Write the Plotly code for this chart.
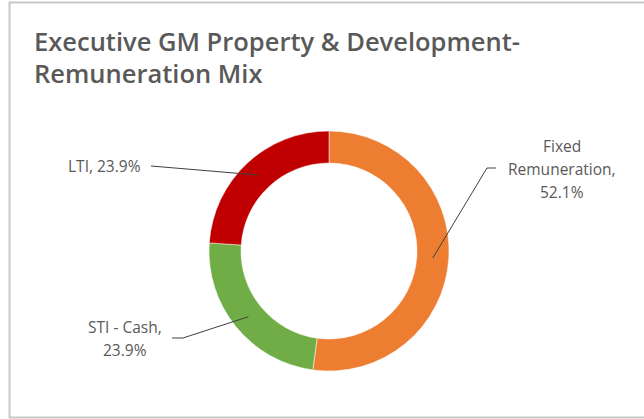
import math
import plotly.graph_objects as go

# Remuneration mix data
categories = ["Fixed Remuneration", "STI - Cash", "LTI"]
shares = [52.1, 23.9, 23.9]
colors = ["#ED7D31", "#70AD47", "#C00000"]
label_lines = [["Fixed", "Remuneration,", "52.1%"], ["STI - Cash,", "23.9%"], ["LTI, 23.9%"]]
title_lines = ["Executive GM Property & Development-", "Remuneration Mix"]

W, H = 644, 419
CX, CY, R_OUT, R_IN = 329, 251, 120, 88


def px(x):
    return x / W


def py(y):
    return 1 - y / H


fig = go.Figure(
    go.Pie(
        labels=categories,
        values=shares,
        marker=dict(colors=colors, line=dict(color="white", width=0.5)),
        hole=R_IN / R_OUT,
        sort=False,
        direction="clockwise",
        rotation=0,
        textinfo="none",
        hoverinfo="label+percent",
        showlegend=False,
        domain=dict(x=[px(CX - R_OUT), px(CX + R_OUT)],
                    y=[py(CY + R_OUT), py(CY - R_OUT)]),
    )
)

# Leader-line anchor at the middle of each ring segment
total = sum(shares)
anchors = []
cum = 0
for v in shares:
    mid = (cum + v / 2) / total * 2 * math.pi
    r = (R_OUT + R_IN) / 2
    anchors.append((CX + r * math.sin(mid), CY - r * math.cos(mid)))
    cum += v

# label placement: text position of first line, alignment, elbow points
placements = [
    dict(x=562, y=146, align="center", elbow=[(496, 168), (487, 168)]),
    dict(x=125, y=327, align="center", elbow=[(172, 338), (183, 338)]),
    dict(x=143, y=166, align="right", elbow=[(151, 166)]),
]

shapes = [
    dict(type="rect", xref="paper", yref="paper",
         x0=px(9.5), x1=px(W + 5), y0=py(417.5), y1=py(2.5),
         line=dict(color="#C8C8C8", width=2), fillcolor="rgba(0,0,0,0)")
]
annotations = []
line_h = 23
for lines, pl, (ax, ay) in zip(label_lines, placements, anchors):
    pts = pl["elbow"] + [(ax, ay)]
    path = "M " + " L ".join(f"{px(x)},{py(y)}" for x, y in pts)
    shapes.append(dict(type="path", xref="paper", yref="paper", path=path,
                       line=dict(color="#404040", width=1)))
    for i, t in enumerate(lines):
        annotations.append(dict(
            text=t, x=px(pl["x"]), y=py(pl["y"] + i * line_h),
            xref="paper", yref="paper", xanchor=pl["align"], yanchor="middle",
            showarrow=False,
            font=dict(family="Open Sans", size=15.5, color="#595959"),
        ))

# Chart title (two lines)
for i, t in enumerate(title_lines):
    annotations.append(dict(
        text=t, x=px(32), y=py(41 + i * 32),
        xref="paper", yref="paper", xanchor="left", yanchor="middle",
        showarrow=False,
        font=dict(family="Open Sans", size=25.5, color="#595959", weight=600),
    ))

fig.update_layout(
    width=W, height=H,
    margin=dict(l=0, r=0, t=0, b=0),
    paper_bgcolor="white",
    plot_bgcolor="white",
    shapes=shapes,
    annotations=annotations,
)

fig.write_html("out.html")
